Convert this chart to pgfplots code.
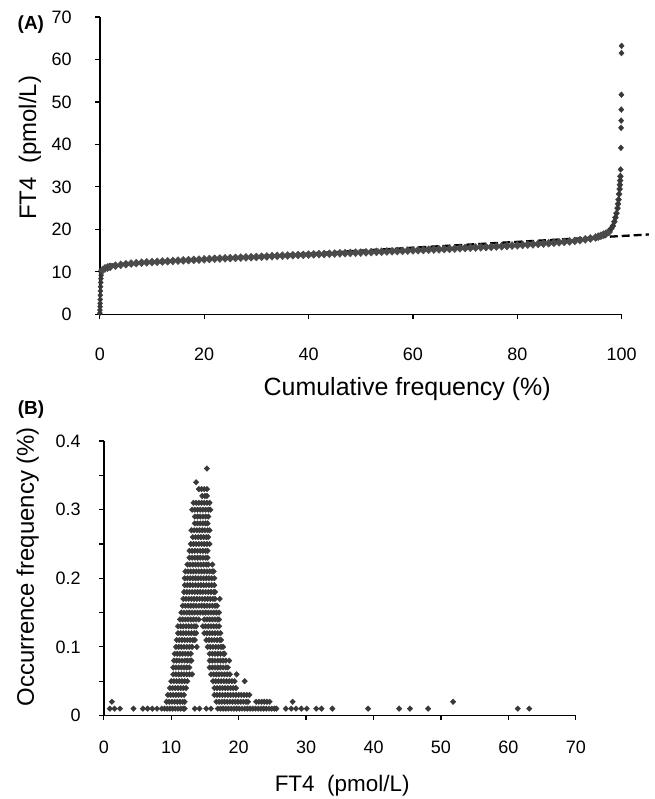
\documentclass[border=0pt]{standalone}
\usepackage{fontspec}
\setmainfont{Liberation Sans}
\usepackage{pgfplots}
\pgfplotsset{compat=1.18}
\definecolor{mk}{HTML}{383838}
\definecolor{band}{HTML}{4A4A4A}
\newcommand{\tlfont}{\fontsize{18}{21}\selectfont}
\pgfplotsset{
  panel/.style={
    scale only axis, clip=false,
    axis x line=bottom, axis y line=left,
    axis line style={-, line width=1.6pt, black},
    tick align=outside, major tick length=5pt, minor tick length=5pt,
    tick style={line width=1.2pt, black},
    /pgf/number format/assume math mode=true,
    label style={font=\fontsize{24}{28}\selectfont},
    scaled ticks=false,
  },
}
\begin{document}
\begin{tikzpicture}
\path (0,0) rectangle (656pt,799pt);
% ---------------- Panel A
\begin{axis}[panel,
  at={(100pt,484pt)}, anchor=south west, width=523pt, height=298pt,
  xmin=0, xmax=100, ymin=0, ymax=70,
  xtick={0,20,40,60,80,100}, ytick={0,10,20,30,40,50,60,70},
  xticklabel={\tlfont\pgfmathprintnumber{\tick}},
  yticklabel={\tlfont\pgfmathprintnumber{\tick}},
  xticklabel style={anchor=center, inner sep=0pt, yshift=-35pt},
  yticklabel style={anchor=east, inner sep=0pt, xshift=-23pt},
  xlabel={Cumulative frequency (\%)}, ylabel={FT4\ \ (pmol/L)},
  xlabel style={font=\fontsize{25}{29}\selectfont, at={(axis description cs:0.589,-0.252)}, anchor=center},
  ylabel style={at={(axis description cs:-0.134,0.56)}, anchor=center},
]
% lowest values, near 0 %
\addplot[only marks, mark=diamond*, mark size=2.8pt, color=mk, mark options={xscale=1.2}] coordinates {
(0.02,0.3) (0.03,1.0) (0.05,1.8) (0.06,2.6) (0.08,3.5) (0.1,4.5) (0.12,5.5) (0.15,6.5) (0.18,7.5) (0.22,8.4) (0.26,9.2) (0.3,9.9)
};
% main body of the distribution
\addplot[only marks, mark=diamond*, mark size=4pt, color=band, mark options={xscale=1.3}] coordinates {
(0.5,10.4) (1,10.8) (1.5,11.0) (2,11.2) (3,11.45) (4,11.65) (5,11.8) (6,11.95) (7,12.05) (8,12.15) (9,12.22) (10,12.3)
(11,12.37) (12,12.44) (13,12.51) (14,12.58) (15,12.65) (16,12.71) (17,12.77) (18,12.83) (19,12.89) (20,12.95)
(21,13.01) (22,13.07) (23,13.13) (24,13.19) (25,13.25) (26,13.3) (27,13.35) (28,13.4) (29,13.45) (30,13.5)
(31,13.56) (32,13.62) (33,13.68) (34,13.74) (35,13.8) (36,13.85) (37,13.9) (38,13.95) (39,14.0) (40,14.05)
(41,14.1) (42,14.15) (43,14.2) (44,14.25) (45,14.3) (46,14.35) (47,14.4) (48,14.45) (49,14.5) (50,14.55)
(51,14.6) (52,14.65) (53,14.7) (54,14.75) (55,14.8) (56,14.85) (57,14.9) (58,14.95) (59,15.0) (60,15.05)
(61,15.1) (62,15.15) (63,15.2) (64,15.25) (65,15.3) (66,15.36) (67,15.42) (68,15.48) (69,15.54) (70,15.6)
(71,15.66) (72,15.72) (73,15.78) (74,15.84) (75,15.9) (76,15.97) (77,16.04) (78,16.11) (79,16.18) (80,16.25)
(81,16.33) (82,16.41) (83,16.49) (84,16.57) (85,16.65) (86,16.75) (87,16.85) (88,16.95) (89,17.05) (90,17.15)
(91,17.3) (92,17.45) (93,17.65) (94,17.85) (95,18.1) (95.5,18.3) (96,18.5) (96.5,18.75) (97,19.0) (97.5,19.4)
};
% upper tail
\addplot[only marks, mark=diamond*, mark size=3.3pt, color=mk, mark options={xscale=1.2}] coordinates {
(98,20.2) (98.3,20.8) (98.6,21.8) (98.8,22.8) (99,23.8) (99.2,25.0) (99.3,26) (99.4,27) (99.5,28.3) (99.6,29.5)
(99.65,30.5) (99.7,31.5) (99.75,32.5)
};
\addplot[only marks, mark=diamond*, mark size=2.9pt, color=mk, mark options={xscale=1.2}] coordinates {
(99.8,34.1) (99.85,39.2) (99.88,43.9) (99.9,45.6) (99.92,48.2) (99.94,51.7) (99.96,61.5) (99.98,63.2)
};
\addplot[black, line width=2.3pt, dash pattern=on 8pt off 4pt] coordinates {(1.5,11.65) (105.2,18.8)};
\node[font=\bfseries\fontsize{19}{22}\selectfont] at (axis description cs:-0.132,0.975) {(A)};
\end{axis}
% ---------------- Panel B
\begin{axis}[panel,
  at={(104pt,82pt)}, anchor=south west, width=473pt, height=275pt,
  xmin=0, xmax=70, ymin=0, ymax=0.4,
  xtick={0,10,20,30,40,50,60,70}, ytick={0,0.1,0.2,0.3,0.4},
  minor ytick={0.05,0.15,0.25,0.35},
  xticklabel={\tlfont\pgfmathprintnumber{\tick}},
  yticklabel={\tlfont\pgfmathprintnumber[fixed,precision=1]{\tick}},
  yticklabel style={anchor=east, inner sep=0pt, xshift=-18pt},
  xticklabel style={anchor=center, inner sep=0pt, yshift=-27pt},
  xlabel={FT4\ \ (pmol/L)}, ylabel={Occurrence frequency (\%)},
  xlabel style={font=\fontsize{22.5}{26}\selectfont, at={(axis description cs:0.505,-0.254)}, anchor=center},
  ylabel style={at={(axis description cs:-0.161,0.542)}, anchor=center},
]
\addplot[only marks, mark=diamond*, mark size=2.8pt, color=mk, mark options={xscale=1.3}] coordinates {
(15.3,0.36)
(13.7,0.34)
(14.1,0.33) (14.5,0.33) (14.9,0.33) (15.3,0.33)
(14.6,0.32) (15.0,0.32) (15.3,0.32)
(13.3,0.31) (13.7,0.31) (14.1,0.31) (14.5,0.31) (14.9,0.31) (15.3,0.31) (15.7,0.31)
(13.1,0.30) (13.5,0.30) (13.9,0.30) (14.3,0.30) (14.7,0.30) (15.1,0.30) (15.5,0.30) (15.8,0.30)
(13.5,0.29) (13.9,0.29) (14.3,0.29) (14.7,0.29) (15.1,0.29) (15.5,0.29)
(13.5,0.28) (13.9,0.28) (14.3,0.28) (14.7,0.28) (15.1,0.28) (15.4,0.28)
(13.0,0.27) (13.4,0.27) (13.8,0.27) (14.2,0.27) (14.6,0.27) (15.0,0.27) (15.4,0.27) (15.7,0.27)
(13.2,0.26) (13.6,0.26) (14.0,0.26) (14.4,0.26) (14.8,0.26) (15.2,0.26) (15.5,0.26)
(12.9,0.25) (13.3,0.25) (13.7,0.25) (14.1,0.25) (14.5,0.25) (14.9,0.25) (15.3,0.25) (15.7,0.25)
(12.7,0.24) (13.1,0.24) (13.5,0.24) (13.9,0.24) (14.3,0.24) (14.7,0.24) (15.1,0.24) (15.4,0.24)
(12.7,0.23) (13.1,0.23) (13.5,0.23) (13.9,0.23) (14.3,0.23) (14.7,0.23) (15.1,0.23) (15.4,0.23)
(12.4,0.22) (12.8,0.22) (13.2,0.22) (13.6,0.22) (14.0,0.22) (14.4,0.22) (14.8,0.22) (15.2,0.22) (15.5,0.22) (16.1,0.22)
(12.1,0.21) (12.5,0.21) (12.9,0.21) (13.3,0.21) (13.7,0.21) (14.1,0.21) (14.5,0.21) (14.9,0.21) (15.3,0.21) (15.7,0.21) (16.1,0.21) (16.3,0.21)
(12.0,0.20) (12.4,0.20) (12.8,0.20) (13.2,0.20) (13.6,0.20) (14.0,0.20) (14.4,0.20) (14.8,0.20) (15.2,0.20) (15.6,0.20) (16.0,0.20) (16.4,0.20)
(12.0,0.19) (12.4,0.19) (12.8,0.19) (13.2,0.19) (13.6,0.19) (14.0,0.19) (14.4,0.19) (14.8,0.19) (15.2,0.19) (15.6,0.19) (16.0,0.19) (16.4,0.19)
(11.9,0.18) (12.3,0.18) (12.7,0.18) (13.1,0.18) (13.5,0.18) (13.9,0.18) (14.3,0.18) (14.7,0.18) (15.1,0.18) (15.5,0.18) (15.9,0.18) (16.3,0.18) (16.5,0.18)
(11.8,0.17) (12.2,0.17) (12.6,0.17) (13.0,0.17) (13.4,0.17) (13.8,0.17) (14.2,0.17) (14.6,0.17) (15.0,0.17) (15.4,0.17) (15.8,0.17) (16.2,0.17) (16.5,0.17) (17.2,0.17)
(11.7,0.16) (12.1,0.16) (12.5,0.16) (12.9,0.16) (13.3,0.16) (13.7,0.16) (14.1,0.16) (14.5,0.16) (14.9,0.16) (15.3,0.16) (15.7,0.16) (16.1,0.16) (16.5,0.16) (16.8,0.16)
(11.5,0.15) (11.9,0.15) (12.3,0.15) (12.7,0.15) (13.1,0.15) (13.5,0.15) (13.9,0.15) (14.3,0.15) (14.7,0.15) (15.1,0.15) (15.5,0.15) (15.9,0.15) (16.3,0.15) (16.7,0.15) (17.1,0.15)
(11.3,0.14) (11.7,0.14) (12.1,0.14) (12.5,0.14) (12.9,0.14) (13.3,0.14) (13.7,0.14) (14.1,0.14) (14.9,0.14) (15.3,0.14) (15.7,0.14) (16.1,0.14) (16.5,0.14) (16.9,0.14) (17.1,0.14)
(11.0,0.13) (11.4,0.13) (11.8,0.13) (12.2,0.13) (12.6,0.13) (13.0,0.13) (13.4,0.13) (13.7,0.13) (14.7,0.13) (15.1,0.13) (15.5,0.13) (15.9,0.13) (16.3,0.13) (16.7,0.13) (17.1,0.13)
(11.0,0.12) (11.4,0.12) (11.8,0.12) (12.2,0.12) (12.6,0.12) (13.0,0.12) (13.4,0.12) (13.7,0.12) (14.9,0.12) (15.3,0.12) (15.7,0.12) (16.1,0.12) (16.5,0.12) (16.9,0.12) (17.3,0.12)
(10.8,0.11) (11.2,0.11) (11.6,0.11) (12.0,0.11) (12.4,0.11) (12.8,0.11) (13.2,0.11) (13.5,0.11) (15.2,0.11) (15.6,0.11) (16.0,0.11) (16.4,0.11) (16.8,0.11) (17.2,0.11) (17.4,0.11)
(10.7,0.10) (11.1,0.10) (11.5,0.10) (11.9,0.10) (12.3,0.10) (12.7,0.10) (13.1,0.10) (13.8,0.10) (15.4,0.10) (15.8,0.10) (16.2,0.10) (16.6,0.10) (17.0,0.10) (17.4,0.10) (17.7,0.10)
(10.5,0.09) (10.9,0.09) (11.3,0.09) (11.7,0.09) (12.1,0.09) (12.5,0.09) (12.9,0.09) (15.7,0.09) (16.1,0.09) (16.5,0.09) (16.9,0.09) (17.3,0.09) (17.7,0.09) (17.9,0.09)
(10.4,0.08) (10.8,0.08) (11.2,0.08) (11.6,0.08) (12.0,0.08) (12.4,0.08) (12.8,0.08) (13.0,0.08) (15.7,0.08) (16.1,0.08) (16.5,0.08) (16.9,0.08) (17.3,0.08) (17.7,0.08) (18.1,0.08) (18.6,0.08)
(10.3,0.07) (10.7,0.07) (11.1,0.07) (11.5,0.07) (11.9,0.07) (12.3,0.07) (12.7,0.07) (15.7,0.07) (16.1,0.07) (16.5,0.07) (16.9,0.07) (17.3,0.07) (17.7,0.07) (18.1,0.07) (18.4,0.07)
(10.3,0.06) (10.7,0.06) (11.1,0.06) (11.5,0.06) (11.9,0.06) (12.3,0.06) (12.7,0.06) (13.1,0.06) (15.9,0.06) (16.3,0.06) (16.7,0.06) (17.1,0.06) (17.5,0.06) (17.9,0.06) (18.3,0.06) (18.7,0.06) (19.7,0.06)
(10.0,0.05) (10.4,0.05) (10.8,0.05) (11.2,0.05) (11.6,0.05) (12.0,0.05) (12.4,0.05) (16.2,0.05) (16.6,0.05) (17.0,0.05) (17.4,0.05) (17.8,0.05) (18.2,0.05) (18.6,0.05) (19.0,0.05) (19.4,0.05) (20.9,0.05)
(9.8,0.04) (10.2,0.04) (10.6,0.04) (11.0,0.04) (11.4,0.04) (11.8,0.04) (12.2,0.04) (16.4,0.04) (16.8,0.04) (17.2,0.04) (17.6,0.04) (18.0,0.04) (18.4,0.04) (18.8,0.04) (19.2,0.04) (19.6,0.04)
(9.5,0.03) (9.9,0.03) (10.3,0.03) (10.7,0.03) (11.1,0.03) (11.5,0.03) (11.9,0.03) (16.4,0.03) (16.8,0.03) (17.2,0.03) (17.6,0.03) (18.0,0.03) (18.4,0.03) (18.8,0.03) (19.2,0.03) (19.6,0.03) (20.0,0.03) (20.4,0.03) (20.8,0.03) (21.2,0.03) (21.6,0.03)
(1.2,0.02) (9.3,0.02) (9.7,0.02) (10.1,0.02) (10.5,0.02) (10.9,0.02) (11.3,0.02) (11.7,0.02) (12.0,0.02) (16.7,0.02) (17.1,0.02) (17.5,0.02) (17.9,0.02) (18.3,0.02) (18.7,0.02) (19.1,0.02) (19.5,0.02) (19.9,0.02) (20.3,0.02) (20.7,0.02) (21.1,0.02) (21.4,0.02) (22.6,0.02) (23.0,0.02) (23.4,0.02) (23.8,0.02) (24.2,0.02) (24.6,0.02) (28.0,0.02) (51.8,0.02)
(0.9,0.01) (1.6,0.01) (2.4,0.01) (4.4,0.01) (5.8,0.01) (6.5,0.01) (7.2,0.01) (7.9,0.01) (8.6,0.01) (9.0,0.01) (9.4,0.01) (9.8,0.01) (10.2,0.01) (10.6,0.01) (11.0,0.01) (11.4,0.01) (11.8,0.01) (12.0,0.01)
(13.5,0.01) (14.2,0.01) (15.2,0.01) (15.9,0.01)
(16.9,0.01) (17.3,0.01) (17.7,0.01) (18.1,0.01) (18.5,0.01) (18.9,0.01) (19.3,0.01) (19.7,0.01) (20.1,0.01) (20.5,0.01) (20.9,0.01) (21.3,0.01) (21.7,0.01) (22.1,0.01) (22.5,0.01) (22.9,0.01) (23.3,0.01) (23.7,0.01) (24.1,0.01) (24.5,0.01) (24.9,0.01) (25.3,0.01) (25.6,0.01)
(27.0,0.01) (27.8,0.01) (28.5,0.01) (29.3,0.01) (30.1,0.01) (31.5,0.01) (32.3,0.01) (33.9,0.01) (39.2,0.01) (43.8,0.01) (45.4,0.01) (48.1,0.01) (61.4,0.01) (63.1,0.01)
};
\node[font=\bfseries\fontsize{19}{22}\selectfont] at (axis description cs:-0.154,1.113) {(B)};
\end{axis}
\end{tikzpicture}
\end{document}
